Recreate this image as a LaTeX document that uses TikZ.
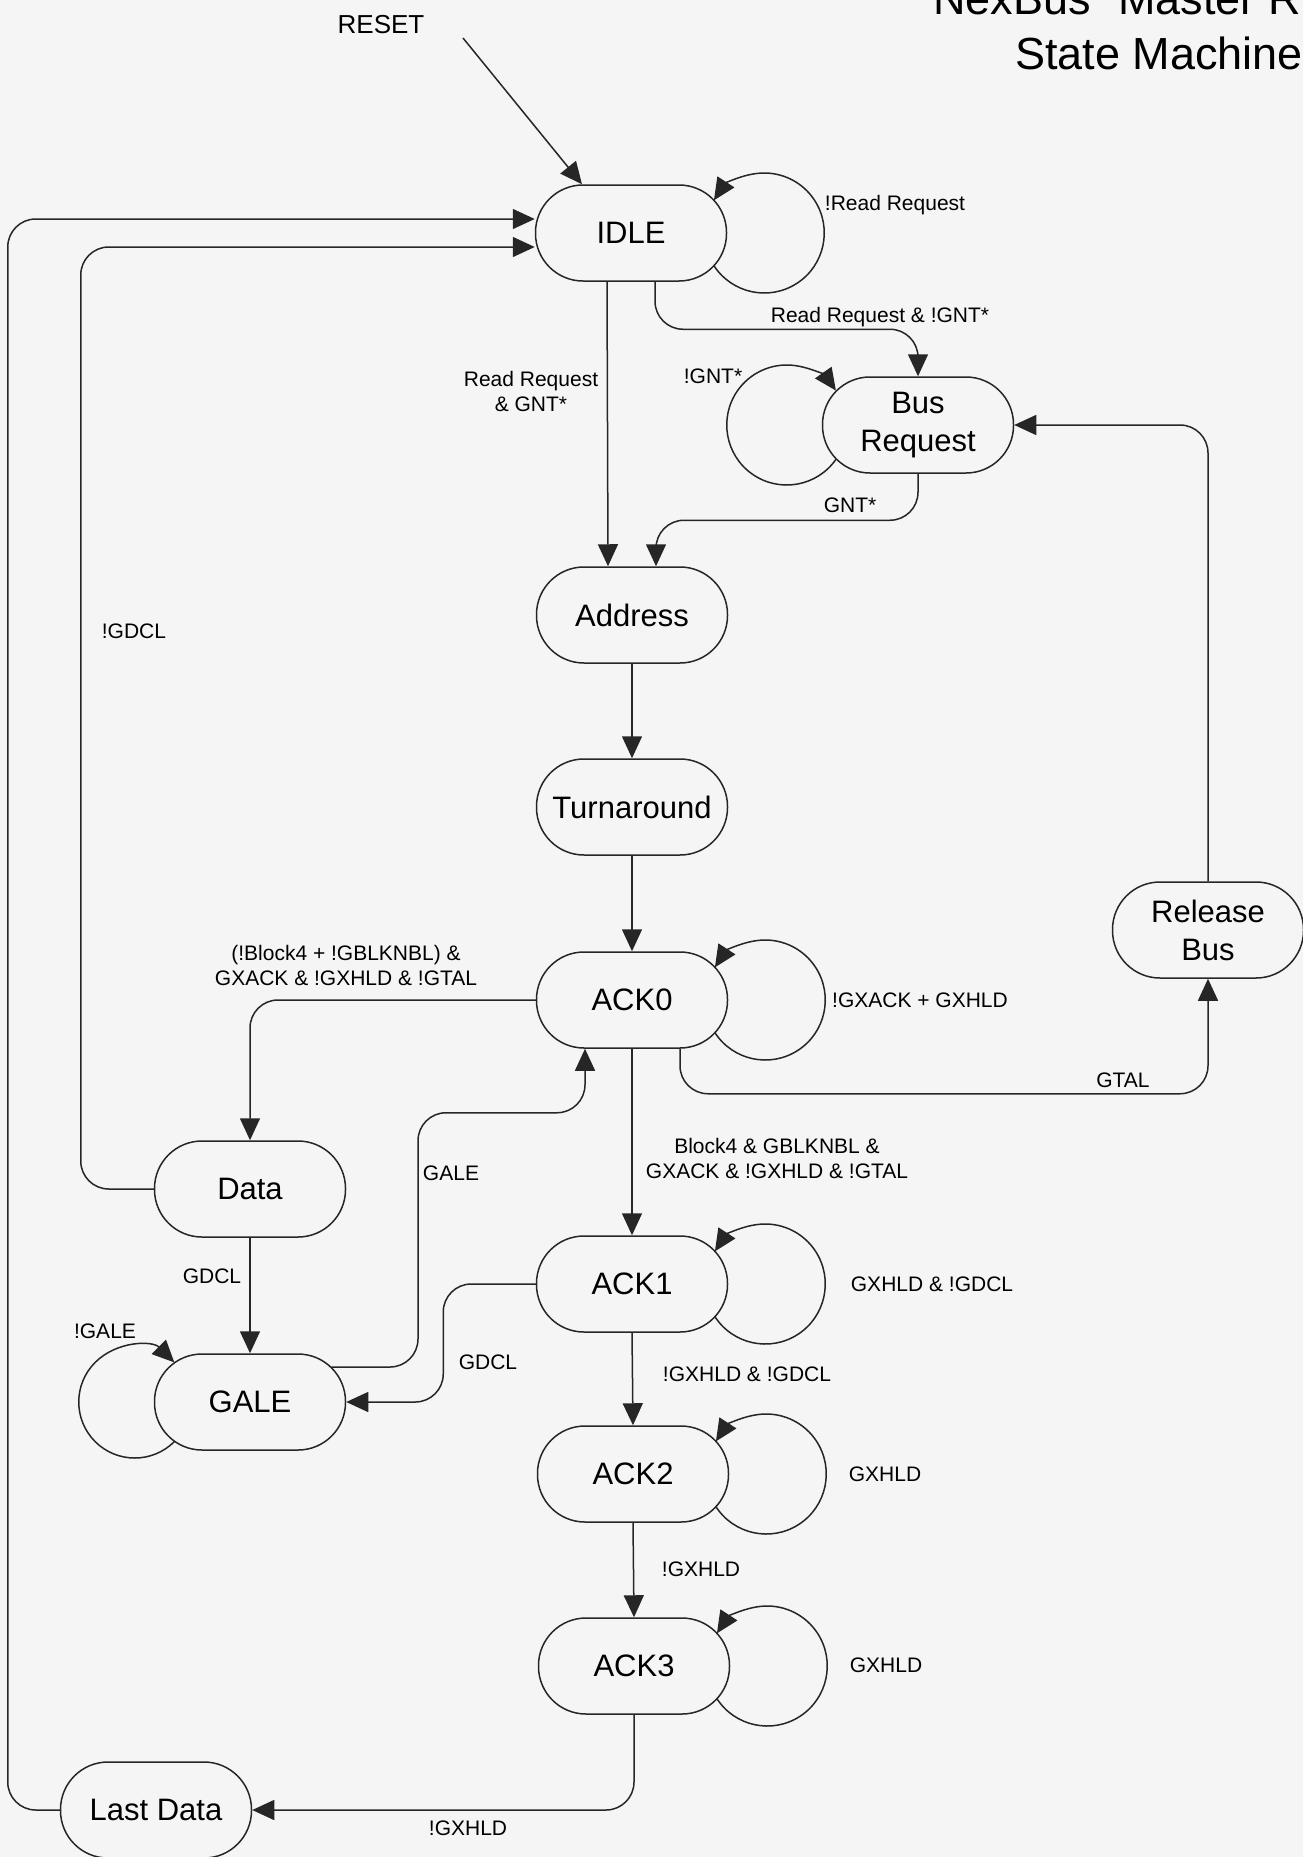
\documentclass[tikz,border=0pt]{standalone}
\usepackage{fontspec}
\setmainfont{Liberation Sans}
\usetikzlibrary{arrows.meta,calc}
\begin{document}
\begin{tikzpicture}[x=1pt,y=1pt,
  state/.style={draw=black!85, line width=1.5pt, rounded corners=47.5pt, minimum width=191pt, minimum height=96pt, inner sep=0pt, align=center, font=\fontsize{31}{38}\selectfont},
  lbl/.style={font=\fontsize{21}{25}\selectfont, align=center, inner sep=0pt},
  arr/.style={draw=black!85, line width=1.5pt, -{Triangle[length=22pt,width=20pt]}},
  rc/.style={rounded corners=28pt}]
\fill[black!4] (0,0) rectangle (1303,-1857);
\useasboundingbox (0,0) rectangle (1303,-1857);

% title
\begin{scope}
\clip (0,0) rectangle (1303,-1857);
\node[anchor=base west, inner sep=0pt, font=\fontsize{45}{54}\selectfont] (t1) at (933,-15) {NexBus” Master R};
\node[anchor=base west, inner sep=0pt, font=\fontsize{45}{54}\selectfont] (t2) at (1015,-70) {State Machine};
\end{scope}

% states
\node[state] (IDLE) at (631,-233) {IDLE};
\node[state] (BusReq) at (918,-425) {Bus\\Request};
\node[state] (Address) at (632,-615) {Address};
\node[state] (Turn) at (632,-807) {Turnaround};
\node[state] (ACK0) at (632,-1000) {ACK0};
\node[state] (RelBus) at (1208,-930) {Release\\Bus};
\node[state] (Data) at (250,-1189) {Data};
\node[state] (GALE) at (250,-1402) {GALE};
\node[state] (ACK1) at (632,-1284) {ACK1};
\node[state] (ACK2) at (633,-1474) {ACK2};
\node[state] (ACK3) at (634,-1666) {ACK3};
\node[state] (Last) at (156,-1810) {Last Data};

% reset
\node[lbl, font=\fontsize{26}{30}\selectfont] (reset) at (381,-25) {RESET};
\coordinate (rs) at (463,-38);
\draw[arr] (rs) -- ($(IDLE.north)+(-49,0)$);

% self loops
\draw[arr] ($(IDLE.east)+(37,0)+(-147:60)$) arc[start angle=-147,end angle=147,radius=60];
\draw[arr] ($(ACK0.east)+(37,0)+(-147:60)$) arc[start angle=-147,end angle=147,radius=60];
\draw[arr] ($(ACK1.east)+(37,0)+(-147:60)$) arc[start angle=-147,end angle=147,radius=60];
\draw[arr] ($(ACK2.east)+(37,0)+(-147:60)$) arc[start angle=-147,end angle=147,radius=60];
\draw[arr] ($(ACK3.east)+(37,0)+(-147:60)$) arc[start angle=-147,end angle=147,radius=60];
\draw[arr] ($(BusReq.west)+(-35,0)+(-35:60)$) arc[start angle=-35,end angle=-325,radius=60];
\draw[arr] ($(GALE.west)+(-19,0)+(-45:56)$) arc[start angle=-45,end angle=-315,radius=56];

% transitions
\draw[arr] ($(IDLE.south)+(-24,0)$) -- ($(Address.north)+(-24,0)$);
\draw[arr, rc] ($(IDLE.south)+(24,0)$) |- ($(BusReq.north)+(0,47)$) -- (BusReq.north);
\draw[arr, rc] (BusReq.south) |- ($(Address.north)+(24,46)$) -- ($(Address.north)+(24,0)$);
\draw[arr] (Address.south) -- (Turn.north);
\draw[arr] (Turn.south) -- (ACK0.north);
\draw[arr, rc] (ACK0.west) -| (Data.north);
\draw[arr, rc] ($(ACK0.south)+(48,0)$) |- ($(RelBus.south)+(0,-115)$) -- (RelBus.south);
\draw[arr, rc] (RelBus.north) |- (BusReq.east);
\draw[arr] (ACK0.south) -- (ACK1.north);
\draw[arr] (ACK1.south) -- (ACK2.north);
\draw[arr] (ACK2.south) -- (ACK3.north);
\draw[arr] (Data.south) -- (GALE.north);
\draw[arr, rc] (Data.west) -| ($(IDLE.west)+(-454,-14)$) -- ($(IDLE.west)+(0,-14)$);
\draw[arr, rc] (Last.west) -| ($(IDLE.west)+(-527,14)$) -- ($(IDLE.west)+(0,14)$);
\draw[arr, rc] ($(GALE.east)+(-15,35)$) -| ($(ACK0.south)+(-214,-64)$) -| ($(ACK0.south)+(-47,0)$);
\draw[arr, rc] (ACK1.west) -| ($(GALE.east)+(97,0)$) -- (GALE.east);
\draw[arr, rc] (ACK3.south) |- (Last.east);

% labels
\node[lbl] (l1) at (895,-205) {!Read Request};
\node[lbl] (l2) at (880,-317) {Read Request \& !GNT*};
\node[lbl] (l3) at (531,-391) {Read Request\\\& GNT*};
\node[lbl] (l4) at (713,-376) {!GNT*};
\node[lbl] (l5) at (850,-505) {GNT*};
\node[lbl] (l6) at (134,-631) {!GDCL};
\node[lbl] (l7) at (346,-965) {(!Block4 + !GBLKNBL) \&\\GXACK \& !GXHLD \& !GTAL};
\node[lbl] (l8) at (920,-1000) {!GXACK + GXHLD};
\node[lbl] (l9) at (1123,-1080) {GTAL};
\node[lbl] (l10) at (451,-1173) {GALE};
\node[lbl] (l11) at (777,-1158) {Block4 \& GBLKNBL \&\\GXACK \& !GXHLD \& !GTAL};
\node[lbl] (l12) at (212,-1276) {GDCL};
\node[lbl] (l13) at (105,-1331) {!GALE};
\node[lbl] (l14) at (488,-1362) {GDCL};
\node[lbl] (l15) at (932,-1284) {GXHLD \& !GDCL};
\node[lbl] (l16) at (747,-1374) {!GXHLD \& !GDCL};
\node[lbl] (l17) at (885,-1474) {GXHLD};
\node[lbl] (l18) at (701,-1569) {!GXHLD};
\node[lbl] (l19) at (886,-1665) {GXHLD};
\node[lbl] (l20) at (468,-1828) {!GXHLD};
\end{tikzpicture}
\end{document}
